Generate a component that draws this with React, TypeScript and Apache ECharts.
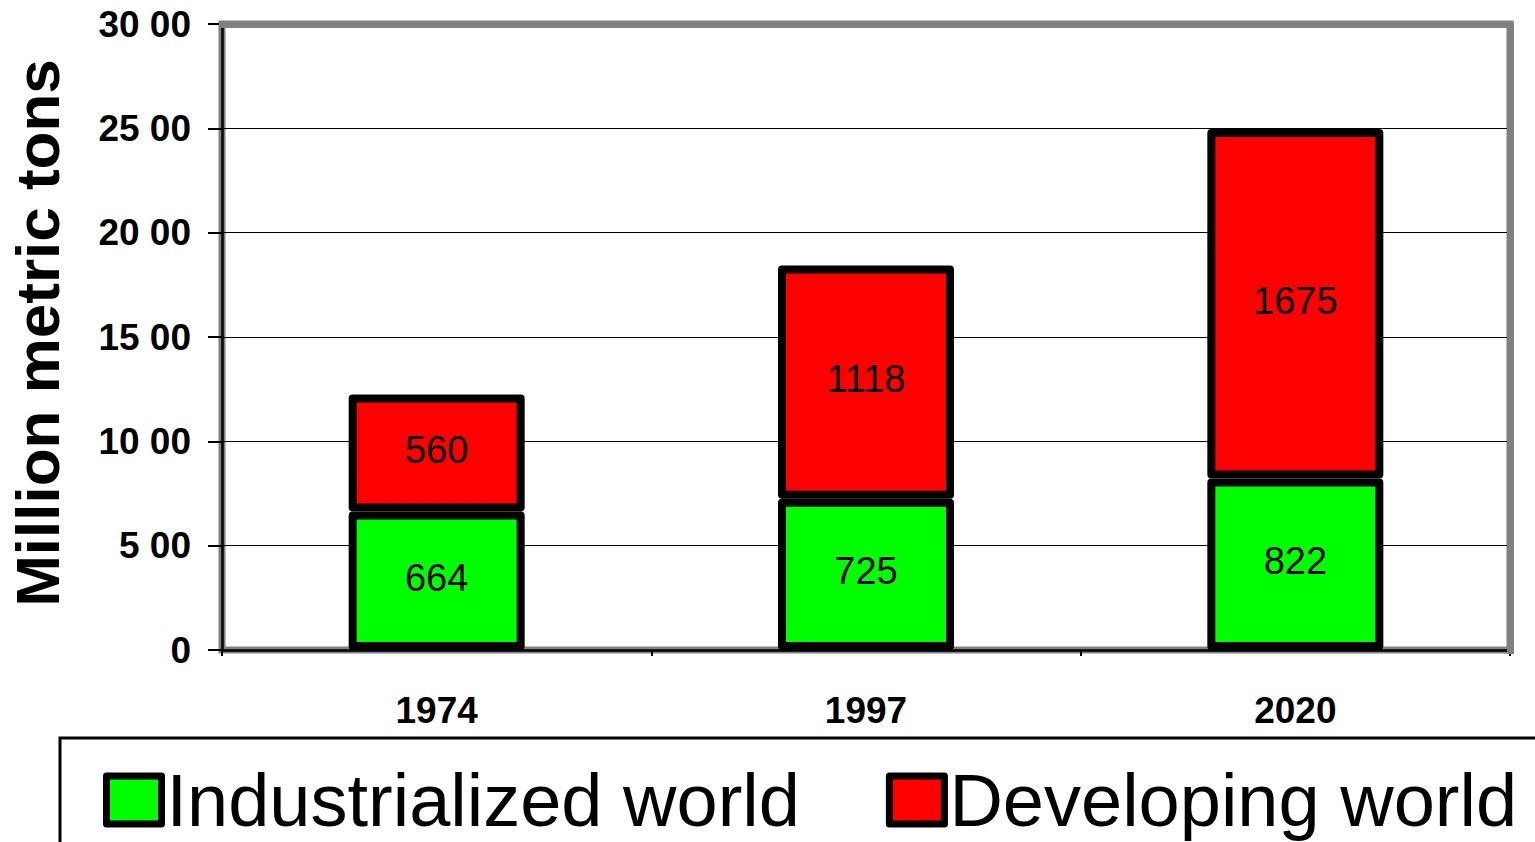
import React, { useEffect, useRef } from 'react';
import * as echarts from 'echarts';

const years = ['1974', '1997', '2020'];
const industrialized = [664, 725, 822];
const developing = [560, 1118, 1675];
const seriesNames = ['Industrialized world', 'Developing world'];
const yMin = 0;
const yMax = 3000;
const yStep = 500;
const yTitle = 'Million metric tons';

const FONT = "'Liberation Sans', Arial, sans-serif";

export default function App() {
  const ref = useRef<HTMLDivElement>(null);
  useEffect(() => {
    if (!ref.current) return;
    const chart = echarts.init(ref.current, null, { renderer: 'svg' });
    const barStyle = (color: string) => ({
      color,
      borderColor: '#000',
      borderWidth: 8,
      borderJoin: 'round',
    });
    const label = {
      show: true,
      position: 'inside',
      offset: [0, -3],
      color: '#000',
      fontSize: 38,
      fontFamily: FONT,
      formatter: '{c}',
    };
    chart.setOption({
      animation: false,
      backgroundColor: '#fff',
      grid: {
        left: 222,
        right: 25,
        top: 24,
        bottom: 192,
        show: true,
        borderColor: '#808080',
        borderWidth: 7,
        backgroundColor: 'transparent',
      },
      xAxis: {
        type: 'category',
        data: years,
        axisLine: { show: true, lineStyle: { color: '#000', width: 2.5 } },
        axisTick: { show: true, length: 6, lineStyle: { color: '#000', width: 2 } },
        axisLabel: {
          color: '#000',
          fontSize: 37,
          fontWeight: 'bold',
          fontFamily: FONT,
          margin: 42,
        },
      },
      yAxis: {
        type: 'value',
        min: yMin,
        max: yMax,
        interval: yStep,
        axisLine: { show: true, lineStyle: { color: '#000', width: 2.5 } },
        axisTick: { show: true, length: 14, lineStyle: { color: '#000', width: 2 } },
        splitLine: { show: true, lineStyle: { color: '#000', width: 1 } },
        axisLabel: {
          color: '#000',
          fontSize: 37,
          fontWeight: 'bold',
          fontFamily: FONT,
          margin: 31,
          formatter: (v: number) => (v === 0 ? '0' : `${v / 100} 00`),
        },
      },
      legend: {
        left: 103,
        top: 763,
        width: 1700,
        padding: 0,
        itemGap: 86,
        itemWidth: 55,
        itemHeight: 48,
        icon: 'rect',
        itemStyle: { borderWidth: 7, borderColor: '#000', borderJoin: 'round' },
        textStyle: { fontSize: 74, color: '#000', fontFamily: FONT },
        data: seriesNames,
      },
      series: [
        {
          name: seriesNames[0],
          type: 'bar',
          stack: 'total',
          barWidth: 176,
          data: industrialized,
          itemStyle: barStyle('#00ff00'),
          label,
        },
        {
          name: seriesNames[1],
          type: 'bar',
          stack: 'total',
          barWidth: 176,
          data: developing,
          itemStyle: barStyle('#ff0000'),
          label,
        },
      ],
      graphic: [
        {
          type: 'polyline',
          z: 100,
          shape: { points: [[219, 24.5], [1510.5, 24.5], [1510.5, 654]] },
          style: { stroke: '#808080', lineWidth: 7, fill: 'none', lineJoin: 'round' },
        },
        {
          type: 'rect',
          z: 100,
          shape: { x: 60, y: 738, width: 1500, height: 200 },
          style: { stroke: '#000', lineWidth: 3, fill: 'none' },
        },
        {
          type: 'text',
          z: 100,
          x: 37,
          y: 333,
          rotation: Math.PI / 2,
          style: {
            text: yTitle,
            fontSize: 62,
            fontWeight: 'bold',
            fontFamily: FONT,
            fill: '#000',
            align: 'center',
            verticalAlign: 'middle',
          },
        },
      ],
    });
    return () => chart.dispose();
  }, []);
  return (
    <div
      ref={ref}
      style={{ position: 'fixed', left: 0, top: 0, width: 1535, height: 842 }}
    />
  );
}
